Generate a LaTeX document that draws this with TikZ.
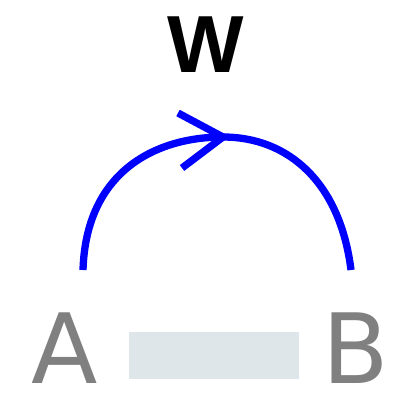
\documentclass[tikz,border=0pt]{standalone}
\usepackage{fontspec}
\setmainfont{DejaVu Sans}
\newfontfamily\titlefont{Liberation Sans}
\definecolor{arcblue}{RGB}{0,0,255}
\definecolor{lblgray}{RGB}{128,128,128}
\definecolor{barfill}{RGB}{223,230,234}
\begin{document}
\begin{tikzpicture}[x=1pt,y=-1pt,
  ptlabel/.style={inner sep=0pt, anchor=base, text depth=0pt, text=lblgray, font=\fontsize{97}{97}\selectfont},
  title/.style={inner sep=0pt, anchor=base, text depth=0pt, font=\titlefont\fontsize{81}{81}\selectfont\bfseries},
  arcline/.style={draw=arcblue, line width=7.3pt},
  bar/.style={fill=barfill, draw=none}]
\useasboundingbox (0,0) rectangle (401,392);
\node[title] (w) at (205.5,72) {W};
\node[ptlabel] (a) at (65,383) {A};
\node[ptlabel] (b) at (356,383) {B};
\fill[barfill] (129,332) rectangle (299,379);
\coordinate (start) at (83,270);
\coordinate (top) at (223,137);
\coordinate (end) at (351,270);
\coordinate (armup) at (178,113);
\coordinate (armdn) at (182,168);
\draw[arcline] (start) .. controls (86,172) and (155,137) .. (top)
  .. controls (288,137) and (340,182) .. (end);
\draw[arcline, miter limit=10] (armup) -- (top) -- (armdn);
\end{tikzpicture}
\end{document}
